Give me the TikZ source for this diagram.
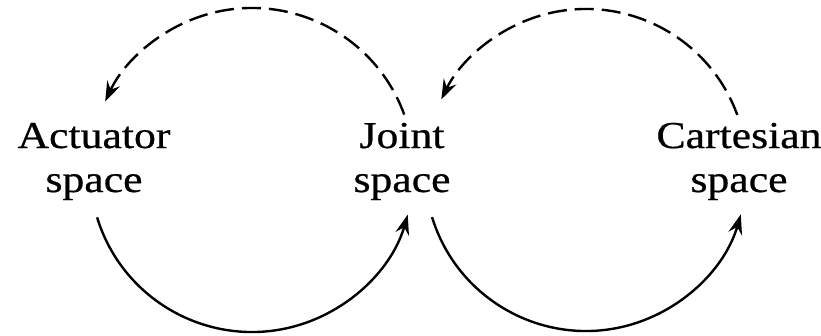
\documentclass[tikz,border=0pt]{standalone}
\usepackage{fontspec}
\setmainfont{Liberation Serif}[FakeStretch=1.15,FakeBold=0.6]
\usetikzlibrary{arrows.meta}
\begin{document}
\begin{tikzpicture}[x=1pt,y=1pt,
  lbl/.style={align=center,anchor=base,inner sep=0pt,font=\fontsize{38}{44}\selectfont},
  conn/.style={line width=2.4pt,-{Stealth[length=20pt,width=14pt,inset=7pt]}},
  dconn/.style={conn,dash pattern=on 19pt off 8pt}]
\useasboundingbox (0,0) rectangle (821,335);
% labels (y measured upwards: y = 335 - image row); base = last line
\node[lbl] (act) at (94,143) {Actuator\\space};
\node[lbl] (joint) at (402,143) {Joint\\space};
\node[lbl] (cart) at (739,143) {Cartesian\\space};
% circle centres
\coordinate (cL) at (252,165);
\coordinate (cR) at (586,165);
% lower solid arcs
\draw[conn] ([shift={(197:162pt)}]cL) arc[start angle=197,end angle=344,radius=162pt];
\draw[conn] ([shift={(197:161pt)}]cR) arc[start angle=197,end angle=344,radius=161pt];
% upper dashed arcs
\draw[dconn] ([shift={(20:162pt)}]cL) arc[start angle=20,end angle=155,radius=162pt];
\draw[dconn] ([shift={(20:161pt)}]cR) arc[start angle=20,end angle=154,radius=161pt];
\end{tikzpicture}
\end{document}
